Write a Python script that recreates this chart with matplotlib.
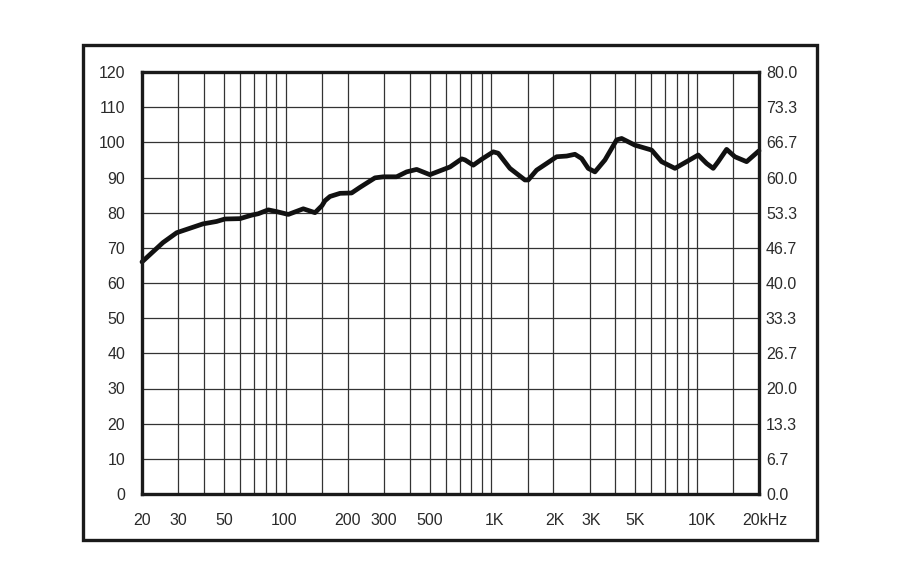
import numpy as np
import matplotlib
matplotlib.use("Agg")
import matplotlib.pyplot as plt
from matplotlib.patches import Rectangle
from matplotlib import font_manager
from matplotlib.transforms import ScaledTranslation

# ---- data ----
freq = [20, 25.3, 29.5, 39.5, 46.1, 50.6, 59.9, 68.3, 73.5, 82.2, 90.3, 102.9,
        121.7, 138.7, 150, 155.1, 164, 183.6, 209, 229.5, 271.5, 298, 346, 387, 433,
        502, 562, 629, 717, 744, 816, 897, 1021, 1079, 1230, 1455, 1510, 1659,
        1856, 2075, 2322, 2547, 2746, 2955, 3187, 3565, 4064, 4297, 4985, 6012,
        6723, 7806, 8892, 10124, 11126, 11976, 12666, 13917, 15271, 17407, 20000]
spl = [66.0, 71.5, 74.3, 76.8, 77.5, 78.2, 78.3, 79.3, 79.7, 80.8, 80.3, 79.5,
       81.1, 80.0, 82.0, 83.4, 84.6, 85.5, 85.6, 87.2, 89.9, 90.2, 90.2, 91.6, 92.3,
       90.8, 91.9, 93.0, 95.3, 95.0, 93.5, 95.2, 97.3, 96.9, 92.6, 89.3, 89.3, 92.1,
       94.0, 95.9, 96.1, 96.6, 95.4, 92.6, 91.6, 95.0, 100.7, 101.1, 99.2, 97.8,
       94.5, 92.6, 94.5, 96.4, 94.0, 92.6, 94.5, 98.0, 95.9, 94.5, 97.6]

grid_freqs = ([20, 30, 40, 50, 60, 70, 80, 90, 100, 150]
              + [200, 300, 400, 500, 600, 700, 800, 900, 1000, 1500]
              + [2000, 3000, 4000, 5000, 6000, 7000, 8000, 9000, 10000, 15000, 20000])
xtick_vals = [20, 30, 50, 100, 200, 300, 500, 1000, 2000, 3000, 5000, 10000, 20000]
xtick_labels = ["20", "30", "50", "100", "200", "300", "500", "1K", "2K", "3K", "5K", "10K", "20kHz"]
left_ticks = list(range(0, 121, 10))
right_ticks = [0.0, 6.7, 13.3, 20.0, 26.7, 33.3, 40.0, 46.7, 53.3, 60.0, 66.7, 73.3, 80.0]

# ---- fonts ----
avail = {f.name for f in font_manager.fontManager.ttflist}
fam = "Liberation Sans Narrow" if "Liberation Sans Narrow" in avail else "Liberation Sans"
plt.rcParams['font.family'] = [fam, 'DejaVu Sans']

fig = plt.figure(figsize=(9, 5.85), dpi=100)
fig.patch.set_facecolor('white')

# outer frame
fig.patches.append(Rectangle((83/900, 1-540/585), (817-83)/900, (540-45)/585,
                             transform=fig.transFigure, fill=False,
                             edgecolor='#1a1a1a', linewidth=2.4))

ax = fig.add_axes([142/900, 1-494/585, (759-142)/900, (494-72)/585])
ax.set_xscale('log')
ax.set_xlim(20, 20000)
ax.set_ylim(0, 120)

for g in grid_freqs:
    ax.axvline(g, color='#333333', linewidth=0.9, zorder=1)
for t in left_ticks:
    ax.axhline(t, color='#333333', linewidth=0.9, zorder=1)

ax.plot(freq, spl, color='#111111', linewidth=3.4, solid_joinstyle='round',
        solid_capstyle='round', zorder=3, clip_on=False)

txt_color = '#2a2a2a'
ax.set_yticks(left_ticks)
ax.set_yticklabels([str(t) for t in left_ticks], fontsize=11.5, color=txt_color)
ax.set_xticks(xtick_vals)
ax.set_xticklabels(xtick_labels, fontsize=11.5, color=txt_color)
ax.xaxis.set_minor_locator(matplotlib.ticker.NullLocator())
ax.tick_params(axis='x', length=0, pad=14)
ax.tick_params(axis='y', length=0, pad=12)
for s in ax.spines.values():
    s.set_linewidth(2.4)
    s.set_color('#1a1a1a')
    s.set_zorder(4)

shifts = {"1K": 3, "2K": 2, "3K": 2, "10K": 5, "20kHz": 6, "100": -2}
for lab in ax.get_xticklabels():
    dx = shifts.get(lab.get_text(), 0)
    if dx:
        lab.set_transform(lab.get_transform() + ScaledTranslation(dx/100, 0, fig.dpi_scale_trans))

ax2 = ax.twinx()
ax2.set_ylim(0, 80)
ax2.set_yticks(right_ticks)
ax2.set_yticklabels(["%.1f" % v for v in right_ticks], fontsize=11.5, color=txt_color)
ax2.tick_params(axis='y', length=0, pad=5)
for s in ax2.spines.values():
    s.set_visible(False)

fig.savefig("out.png", dpi=100, facecolor='white')
